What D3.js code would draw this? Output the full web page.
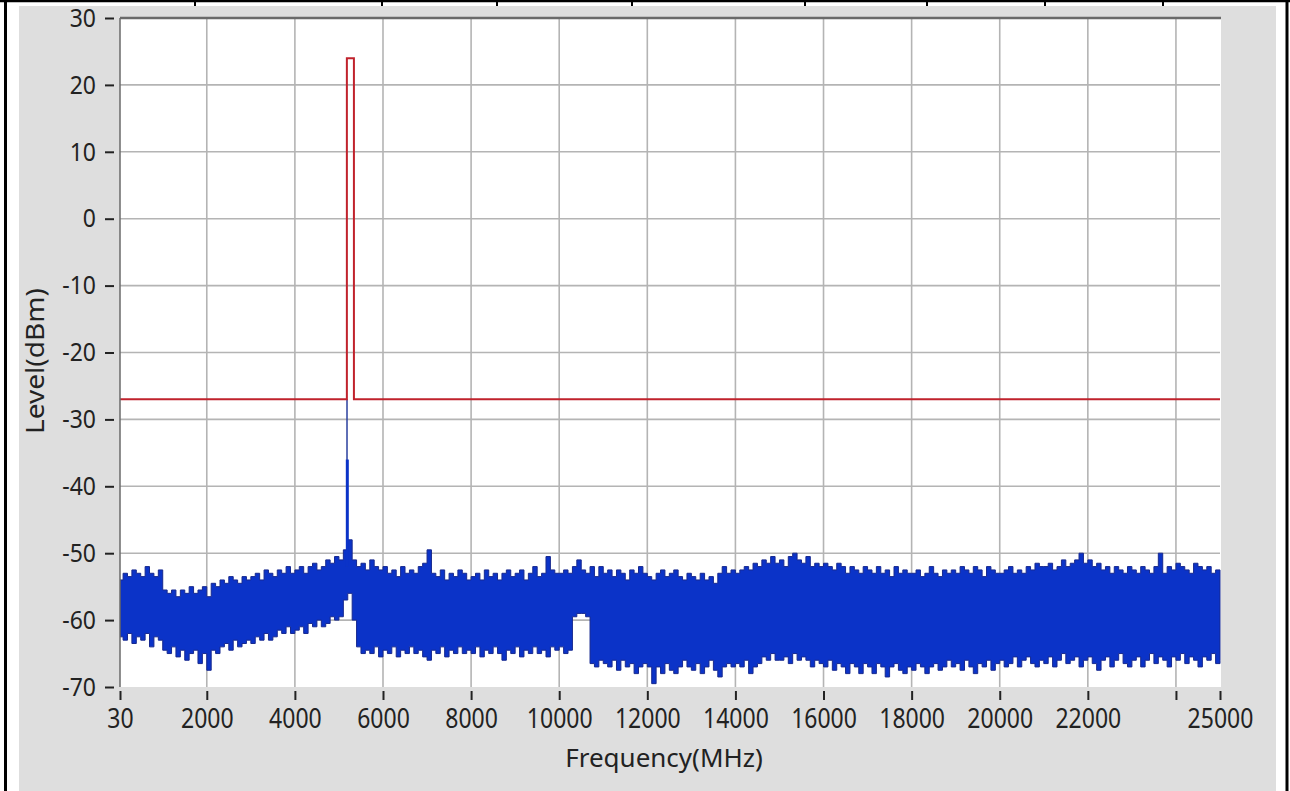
<!DOCTYPE html>
<html>
<head>
<meta charset="utf-8">
<style>
    body { margin: 0; background: #fff; }
    text { font-family: "Noto Sans", sans-serif; fill: #222; }
</style>
</head>
<body>
    <svg id="chart"></svg>

    <script src="https://d3js.org/d3.v7.min.js" charset="utf-8"></script>
    <script type="text/javascript">
        // sweep envelope, one max/min pair every 100 MHz (first bin clipped to 30 MHz)
        binStart = 0
        binStep = 100

        upperLevel = [
            -54, -53, -53.5, -52.5, -53, -53.5, -52, -53, -53.5, -52.5,
            -55.5, -56, -55.5, -56.5, -55.5, -56, -55, -56, -55.5, -55,
            -56.5, -54.5, -55, -54, -54.5, -53.5, -54, -54.5, -53.5, -54,
            -53.5, -53, -54, -52.5, -53, -53.5, -52.5, -53, -52, -53,
            -52.5, -52, -53, -52, -51.5, -52.5, -52, -51, -51.5, -50.5,
            -51, -49.5, -48, -51, -52, -51.5, -52.5, -51, -52, -52.5,
            -52, -53, -52.5, -53.5, -52, -53, -52.5, -53, -52, -51.5,
            -49.5, -53, -53.5, -52.5, -54, -53, -53.5, -52.5, -53, -54,
            -53.5, -53, -54, -52.5, -53.5, -53, -54, -53, -52.5, -53.5,
            -53, -52.5, -54, -53, -52, -53.5, -53, -50.5, -52.5, -53,
            -53, -52.5, -53, -52, -51, -52.5, -53, -52, -53.5, -52,
            -53, -52.5, -53.5, -52.5, -53, -54, -52.5, -53, -52, -53,
            -53.5, -54, -53, -52.5, -53.5, -53, -52.5, -53.5, -54, -53,
            -53.5, -54, -53, -54, -53.5, -54.5, -53, -52, -53, -52.5,
            -53, -52.5, -52, -52.5, -51.5, -52, -51, -51.5, -50.5, -51.5,
            -51, -52, -50.5, -50, -51, -51.5, -50.5, -52, -51.5, -52,
            -51.5, -52, -52.5, -51.5, -52, -53, -52, -52.5, -53, -52,
            -52.5, -53, -52, -53, -52.5, -53.5, -52, -53, -52.5, -53,
            -53, -52.5, -53.5, -53, -52, -53, -53.5, -52.5, -53, -52.5,
            -53, -52, -52.5, -53, -52, -52.5, -53.5, -52, -52.5, -53,
            -53, -52.5, -52, -53, -52.5, -53, -52, -52.5, -51.5, -52,
            -52, -51.5, -52.5, -52, -51, -52, -51.5, -51, -50, -51.5,
            -51, -52, -51.5, -52.5, -52, -53, -52, -52.5, -53, -52,
            -52.5, -53, -52, -52.5, -53, -52, -50, -53, -52, -52.5,
            -51.5, -52, -52.5, -53, -51.5, -52, -52.5, -52, -53, -52.5,
            -52.5
        ]

        lowerLevel = [
            -62.5, -63, -62, -63.5, -62.5, -63, -62, -64, -62.5, -63,
            -64.5, -65, -64, -65.5, -64.5, -66, -65, -64.5, -66.5, -65,
            -67.5, -64.5, -65, -64, -63.5, -64.5, -63, -64, -63.5, -63,
            -63.5, -62.5, -63, -62, -63, -62.5, -61.5, -62, -61, -62,
            -61.5, -61, -62, -60.5, -61, -60, -61, -60.5, -59.5, -60,
            -59.5, -57, -56, -60, -64, -65, -64.5, -65, -64, -65.5,
            -64.5, -65, -64, -65.5, -64.5, -65, -64, -65, -64.5, -65.5,
            -66, -64.5, -65, -64, -65.5, -64.5, -65, -64, -65, -64.5,
            -65, -64, -65.5, -64.5, -65, -64, -65, -66, -64.5, -65,
            -64, -65.5, -64.5, -65, -64, -65, -64.5, -65.5, -64, -64.5,
            -64, -65, -64.5, -59.5, -59, -59, -59.5, -66.5, -67, -66,
            -66.5, -67, -66, -67.5, -66, -67, -66.5, -68, -67, -66.5,
            -67, -69.5, -67, -68, -66.5, -67.5, -68, -67, -66, -67,
            -67.5, -66.5, -68, -67, -66, -67.5, -68.5, -67, -66.5, -67,
            -66.5, -67, -66, -68, -67, -66.5, -65.5, -66, -65, -66,
            -66, -65.5, -66.5, -65, -66, -65.5, -66, -67, -66, -66.5,
            -67, -66, -67.5, -66.5, -67, -68, -66.5, -67, -68, -66.5,
            -67, -68, -66.5, -67, -68.5, -67, -66.5, -67.5, -68, -67,
            -67.5, -66.5, -67, -68, -67, -66.5, -67.5, -67, -66, -67,
            -66.5, -67.5, -66, -67, -68, -66.5, -67, -66, -67.5, -66.5,
            -66, -67, -66.5, -65.5, -67, -66, -65.5, -66.5, -67, -66,
            -66.5, -65.5, -67, -66, -65, -66.5, -66, -65.5, -67, -66,
            -65.5, -66.5, -67.5, -66, -65.5, -67, -66, -65, -66.5, -67,
            -66, -65.5, -67, -66, -65, -66.5, -65.5, -66, -67, -65.5,
            -66, -65, -66.5, -65.5, -66, -67, -65.5, -66, -65, -66.5,
            -66
        ]

        // carrier spike
        carrierFreq = [5183, 5190]
        carrierLevel = [-27, -36]

        // limit mask (red)
        maskFreq = [30, 5180, 5180, 5340, 5340, 25000]
        maskLevel = [-27, -27, 24, 24, -27, -27]

        xTicks = [30, 2000, 4000, 6000, 8000, 10000, 12000, 14000, 16000, 18000, 20000, 22000, 24000, 25000]
        xTickLabels = ['30', '2000', '4000', '6000', '8000', '10000', '12000', '14000', '16000', '18000', '20000', '22000', '', '25000']
        yTicks = [30, 20, 10, 0, -10, -20, -30, -40, -50, -60, -70]

        svgW = 1290
        svgH = 791
        plotLeft = 120
        plotRight = 1220
        plotTop = 18
        plotBottom = 687

        svg = d3.select('#chart')
                .attr('width', svgW)
                .attr('height', svgH)

        x = d3.scaleLinear().domain([30, 25000]).range([plotLeft, plotRight])
        y = d3.scaleLinear().domain([-70, 30]).range([plotBottom, plotTop])

        // frame: black border, table dividers on top, grey panel
        svg.append('rect').attr('x', 0).attr('y', 0).attr('width', svgW).attr('height', svgH).attr('fill', '#fff')
        svg.append('rect').attr('x', 19).attr('y', 6).attr('width', 1257).attr('height', svgH - 6).attr('fill', '#dedede')
        svg.append('line').attr('x1', 0).attr('x2', svgW).attr('y1', 1).attr('y2', 1).attr('stroke', '#000').attr('stroke-width', 2.5)
        svg.append('line').attr('x1', 5.5).attr('x2', 5.5).attr('y1', 0).attr('y2', svgH).attr('stroke', '#000').attr('stroke-width', 3)
        svg.append('line').attr('x1', 1287).attr('x2', 1287).attr('y1', 0).attr('y2', svgH).attr('stroke', '#000').attr('stroke-width', 3)
        dividers = [195, 382, 497, 632, 805, 927, 1045, 1163]
        svg.selectAll('.divider').data(dividers).enter().append('line')
            .attr('class', 'divider')
            .attr('x1', function(d) { return d }).attr('x2', function(d) { return d })
            .attr('y1', 0).attr('y2', 6)
            .attr('stroke', '#000').attr('stroke-width', 2)

        // plot area
        svg.append('rect').attr('x', plotLeft).attr('y', plotTop).attr('width', plotRight - plotLeft + 1).attr('height', plotBottom - plotTop).attr('fill', '#fff')

        svg.append('clipPath').attr('id', 'plotclip')
            .append('rect').attr('x', plotLeft).attr('y', plotTop).attr('width', plotRight - plotLeft + 1).attr('height', plotBottom - plotTop)

        // grid
        svg.selectAll('.vgrid').data(xTicks.filter(function(d) { return d > 30 && d < 25000 })).enter().append('line')
            .attr('class', 'vgrid')
            .attr('x1', function(d) { return x(d) }).attr('x2', function(d) { return x(d) })
            .attr('y1', plotTop).attr('y2', plotBottom)
            .attr('stroke', '#b4b4b4').attr('stroke-width', 1.6)
        svg.selectAll('.hgrid').data(yTicks.filter(function(d) { return d < 30 && d > -70 })).enter().append('line')
            .attr('class', 'hgrid')
            .attr('x1', plotLeft).attr('x2', plotRight)
            .attr('y1', function(d) { return y(d) }).attr('y2', function(d) { return y(d) })
            .attr('stroke', '#b4b4b4').attr('stroke-width', 1.6)

        // spectrum band
        bins = upperLevel.map(function(u, i) {
            return { f: Math.max(30, binStart + i * binStep), hi: u, lo: lowerLevel[i] }
        })
        band = d3.area()
                .x(function(d) { return x(d.f) })
                .y0(function(d) { return y(d.lo) })
                .y1(function(d) { return y(d.hi) })
                .curve(d3.curveStepAfter)
        plot = svg.append('g').attr('clip-path', 'url(#plotclip)')
        plot.append('path').datum(bins)
            .attr('d', band)
            .attr('fill', '#0b33c8')
            .attr('stroke', '#17298f')
            .attr('stroke-width', 1)

        plot.selectAll('.carrier').data(carrierFreq).enter().append('line')
            .attr('class', 'carrier')
            .attr('x1', function(d) { return x(d) }).attr('x2', function(d) { return x(d) })
            .attr('y1', y(-52))
            .attr('y2', function(d, i) { return y(carrierLevel[i]) })
            .attr('stroke', function(d, i) { return i === 0 ? '#2a3f9e' : '#0b33c8' })
            .attr('stroke-width', function(d, i) { return i === 0 ? 1.5 : 3 })

        // limit mask
        mask = d3.line()
                .x(function(d) { return x(d[0]) })
                .y(function(d) { return y(d[1]) })
        plot.append('path').datum(d3.zip(maskFreq, maskLevel))
            .attr('d', mask)
            .attr('fill', 'none')
            .attr('stroke', '#c0222c')
            .attr('stroke-width', 2)

        // plot frame: dark top and left edges
        svg.append('line').attr('x1', plotLeft).attr('x2', plotRight + 1).attr('y1', plotTop).attr('y2', plotTop)
            .attr('stroke', '#6a6a6a').attr('stroke-width', 2.5)
        svg.append('line').attr('x1', plotLeft).attr('x2', plotLeft).attr('y1', plotTop).attr('y2', plotBottom)
            .attr('stroke', '#6a6a6a').attr('stroke-width', 1.5)

        // axes (labels drawn a bit taller than wide, like the source screenshot)
        yAxis = d3.axisLeft(y).tickValues(yTicks).tickSize(9).tickPadding(9)
                  .tickFormat(function(d) { return String(d) })
        yg = svg.append('g').attr('transform', 'translate(114,0)').call(yAxis)
        yg.select('.domain').remove()
        yg.selectAll('line').attr('stroke', '#222').attr('stroke-width', 2)
        yg.selectAll('text').style('font-size', '23px').attr('fill', '#222')
            .attr('transform', 'scale(1,1.12)')

        xAxis = d3.axisBottom(x).tickValues(xTicks).tickSize(9).tickPadding(8)
                  .tickFormat(function(d, i) { return xTickLabels[i] })
        xg = svg.append('g').attr('transform', 'translate(0,691)').call(xAxis)
        xg.select('.domain').remove()
        xg.selectAll('line').attr('stroke', '#222').attr('stroke-width', 2)
        xg.selectAll('text').style('font-size', '23px').attr('fill', '#222')
            .attr('y', 14).attr('transform', 'scale(1,1.22)')

        // titles
        svg.append('text')
            .attr('x', 664).attr('y', 767)
            .attr('text-anchor', 'middle')
            .style('font-size', '26px')
            .attr('fill', '#2a2a2a')
            .text('Frequency(MHz)')
        svg.append('text')
            .attr('transform', 'translate(44,361) scale(1,1.08) rotate(-90)')
            .attr('text-anchor', 'middle')
            .style('font-size', '26px')
            .attr('fill', '#3a2e2e')
            .text('Level(dBm)')
    </script>
</body>
</html>
